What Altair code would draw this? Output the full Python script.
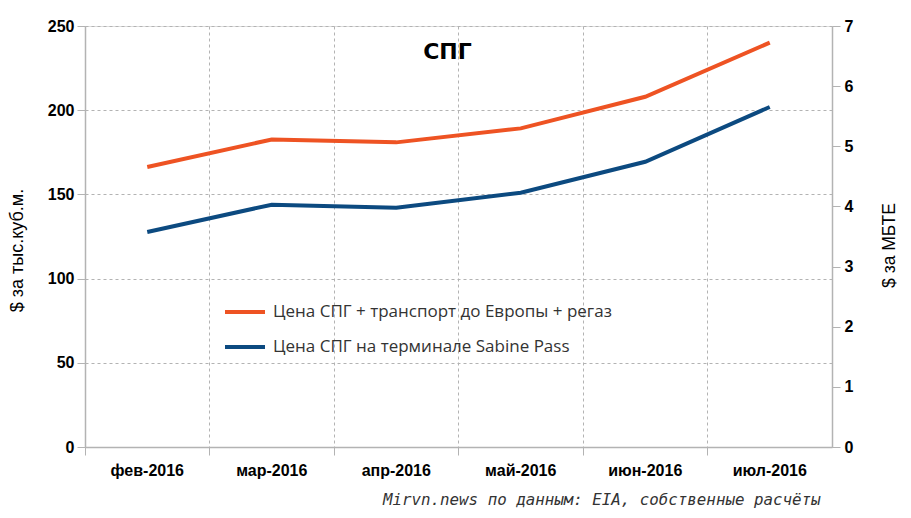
import altair as alt
import pandas as pd

months = ["фев-2016", "мар-2016", "апр-2016", "май-2016", "июн-2016", "июл-2016"]
europe = [166.3, 182.6, 180.9, 189.2, 208.0, 240.1]
sabine = [127.7, 143.9, 142.1, 151.0, 169.4, 201.9]
series_names = ["Цена СПГ + транспорт до Европы + регаз", "Цена СПГ на терминале Sabine Pass"]
series_colors = ["#EE5323", "#0C4A80"]
left_ticks = [0, 50, 100, 150, 200, 250]
right_ticks = [0, 1, 2, 3, 4, 5, 6, 7]

rows = []
for m, v in zip(months, europe):
    rows.append({"month": m, "value": v, "series": series_names[0]})
for m, v in zip(months, sabine):
    rows.append({"month": m, "value": v, "series": series_names[1]})
df = pd.DataFrame(rows)

grid_col = "#b3b3b3"

x_enc = alt.X(
    "month:N",
    sort=months,
    scale=alt.Scale(type="band", paddingInner=0, paddingOuter=0),
    axis=alt.Axis(
        title="Mirvn.news по данным: EIA, собственные расчёты",
        titleFont="DejaVu Sans Mono",
        titleFontStyle="italic",
        titleFontWeight="normal",
        titleFontSize=15.8,
        titleColor="#333333",
        titleAnchor="end",
        titleAlign="right",
        titleBaseline="middle",
        titleX=735,
        titleY=52,
        bandPosition=0,
        labelAngle=0,
        labelFont="Liberation Sans",
        labelFontWeight="bold",
        labelFontSize=16,
        labelColor="#000000",
        labelPadding=7,
        tickSize=8,
        tickColor=grid_col,
        domainColor=grid_col,
        domainWidth=1.5,
        grid=True,
        gridColor=grid_col,
        gridDash=[3, 3],
    ),
)

lines = alt.Chart(df).mark_line(strokeWidth=4).encode(
    x=x_enc,
    y=alt.Y(
        "value:Q",
        scale=alt.Scale(domain=[0, 250]),
        axis=alt.Axis(
            values=left_ticks,
            title="$ за тыс.куб.м.",
            titleFont="Liberation Sans",
            titleFontWeight="normal",
            titleFontSize=18,
            titleColor="#000000",
            titleAngle=270,
            titleBaseline="middle",
            titleAlign="center",
            titleX=-68,
            titleY=224,
            labelFont="Liberation Sans",
            labelFontWeight="bold",
            labelFontSize=16,
            labelColor="#000000",
            labelPadding=3,
            tickSize=8,
            tickColor=grid_col,
            domainColor=grid_col,
            domainWidth=1.5,
            grid=True,
            gridColor=grid_col,
            gridDash=[3, 3],
        ),
    ),
    color=alt.Color(
        "series:N",
        sort=series_names,
        scale=alt.Scale(domain=series_names, range=series_colors),
        legend=alt.Legend(
            title=None,
            orient="none",
            legendX=138,
            legendY=264,
            symbolType="stroke",
            symbolSize=1600,
            symbolStrokeWidth=4,
            labelFont="Open Sans",
            labelFontSize=17,
            labelColor="#333333",
            labelOffset=6,
            rowPadding=5,
            labelLimit=500,
        ),
    ),
)

right_df = pd.DataFrame({"mbtu": right_ticks})
right_axis = alt.Chart(right_df).mark_point(opacity=0).encode(
    y=alt.Y(
        "mbtu:Q",
        scale=alt.Scale(domain=[0, 7]),
        axis=alt.Axis(
            orient="right",
            values=right_ticks,
            title="$ за МБТЕ",
            titleFont="Liberation Sans",
            titleFontWeight="normal",
            titleFontSize=17.5,
            titleColor="#000000",
            titleAngle=270,
            titleBaseline="middle",
            titleAlign="center",
            titleX=57,
            titleY=219,
            labelFont="Liberation Sans",
            labelFontWeight="bold",
            labelFontSize=16,
            labelColor="#000000",
            labelPadding=4,
            tickSize=8,
            tickColor=grid_col,
            domainColor=grid_col,
            domainWidth=1.5,
            grid=False,
        ),
    ),
)

chart = (
    alt.layer(lines, right_axis)
    .resolve_scale(y="independent")
    .properties(
        width=747,
        height=421,
        title=alt.TitleParams(
            text="СПГ",
            font="DejaVu Sans",
            fontSize=22,
            fontWeight="bold",
            color="#000000",
            anchor="middle",
            frame="group",
            offset=-46,
            dx=-11,
        ),
        autosize=alt.AutoSizeParams(type="none"),
        padding={"left": 77, "top": 18, "right": 70, "bottom": 63},
    )
    .configure_view(stroke=None)
    .configure(background="white")
)

chart.save("out.html", embed_options={"renderer": "svg", "actions": False})
